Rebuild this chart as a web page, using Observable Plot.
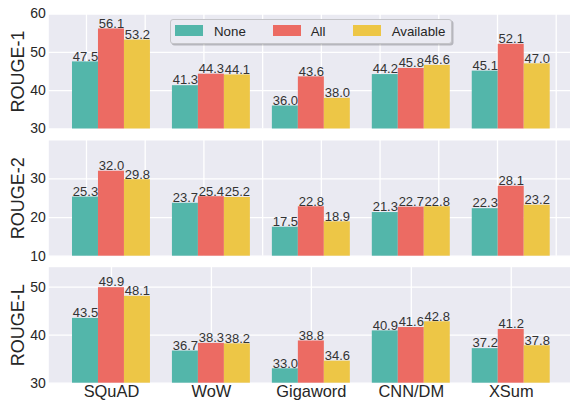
<!DOCTYPE html>
<html><head><meta charset="utf-8">
<script src="https://cdn.jsdelivr.net/npm/d3@7"></script>
<script src="https://cdn.jsdelivr.net/npm/@observablehq/plot@0.6"></script>
<style>
body{margin:0;background:#fff;overflow:hidden;font-family:"Liberation Sans",Arial,sans-serif}
#chart{position:relative;width:570px;height:400px}
#chart svg{position:absolute;left:0;top:0}
.legend{position:absolute;left:170px;top:19px;width:282px;height:25px;background:#EAEAF2;border:1px solid #c4c4c8;border-radius:3px;box-shadow:1.5px 1.5px 0 rgba(0,0,0,0.22);box-sizing:border-box}
.sw{position:absolute;top:5px;width:28px;height:11px}
.lt{position:absolute;top:0;font-size:13.3px;color:#262626;line-height:23px;white-space:nowrap}
</style>
</head><body>
<div id="chart"></div>
<script>
const categories = ["SQuAD", "WoW", "Gigaword", "CNN/DM", "XSum"];
const series = ["None", "All", "Available"];
const colors = ["#53b6aa", "#ec6b63", "#edc646"];

const rouge1None  = [47.5, 41.3, 36.0, 44.2, 45.1];
const rouge1All   = [56.1, 44.3, 43.6, 45.8, 52.1];
const rouge1Avail = [53.2, 44.1, 38.0, 46.6, 47.0];

const rouge2None  = [25.3, 23.7, 17.5, 21.3, 22.3];
const rouge2All   = [32.0, 25.4, 22.8, 22.7, 28.1];
const rouge2Avail = [29.8, 25.2, 18.9, 22.8, 23.2];

const rougeLNone  = [43.5, 36.7, 33.0, 40.9, 37.2];
const rougeLAll   = [49.9, 38.3, 38.8, 41.6, 41.2];
const rougeLAvail = [48.1, 38.2, 34.6, 42.8, 37.8];

const rouge1Ticks = [30, 40, 50, 60];
const rouge2Ticks = [10, 20, 30];
const rougeLTicks = [30, 40, 50];
// vertical grid positions of the upper panels (x data units)
const upperGridX = [-0.25, 0.3375, 0.925, 1.5125, 2.1, 2.6875, 3.275, 3.8625, 4.45];
const categoryIndex = [0, 1, 2, 3, 4];

const BAR_W = 0.26;
const BG = "#EAEAF2";
const chart = document.getElementById("chart");

function panel({values, label, yDomain, yTicks, gridX, showX, marginTop, marginBottom}) {
  const rows = categories.flatMap((c, i) => series.map((s, j) => ({c, i, s, j, v: values[j][i]})));
  const x1 = d => d.i + (d.j - 1.5) * BAR_W;
  const x2 = d => d.i + (d.j - 0.5) * BAR_W;
  const xc = d => d.i + (d.j - 1) * BAR_W;
  const marks = [
    Plot.frame({fill: BG, stroke: null}),
    Plot.gridX(gridX, {stroke: "white", strokeOpacity: 1, strokeWidth: 1.3}),
    Plot.gridY(yTicks, {stroke: "white", strokeOpacity: 1, strokeWidth: 1.3}),
    Plot.rectY(rows, {x1, x2, y1: () => yDomain[0], y2: "v", fill: "s"}),
    Plot.text(rows, {x: xc, y: "v", text: d => d.v.toFixed(1), lineAnchor: "bottom", dy: -1.2, fontSize: 13, fill: "#333"}),
    Plot.axisY(yTicks, {tickSize: 0, tickPadding: 3, fontSize: 14, fill: "#262626", label: null}),
    Plot.text([label], {frameAnchor: "left", textAnchor: "middle", lineAnchor: "middle", dx: -31, rotate: -90, fontSize: 18, fill: "#262626"})
  ];
  if (showX) marks.push(Plot.axisX(categoryIndex, {tickSize: 0, tickPadding: 2, fontSize: 16.4, fill: "#262626", tickFormat: i => categories[i], label: null}));
  const svg = Plot.plot({
    width: 570, height: 400,
    marginLeft: 48.3, marginRight: 0, marginTop, marginBottom,
    x: {type: "linear", domain: [-0.627, 4.593], axis: null},
    y: {domain: yDomain, axis: null},
    color: {domain: series, range: colors},
    style: {background: "transparent", overflow: "visible", fontFamily: "'Liberation Sans', Arial, sans-serif", color: "#262626"},
    marks
  });
  chart.appendChild(svg);
}

panel({values: [rouge1None, rouge1All, rouge1Avail], label: "ROUGE-1", yDomain: [30, 60], yTicks: rouge1Ticks, gridX: upperGridX, showX: false, marginTop: 13.5, marginBottom: 271.5});
panel({values: [rouge2None, rouge2All, rouge2Avail], label: "ROUGE-2", yDomain: [10, 39.95], yTicks: rouge2Ticks, gridX: upperGridX, showX: false, marginTop: 140, marginBottom: 144.3});
panel({values: [rougeLNone, rougeLAll, rougeLAvail], label: "ROUGE-L", yDomain: [30, 54.17], yTicks: rougeLTicks, gridX: categoryIndex, showX: true, marginTop: 266.7, marginBottom: 17.3});

// legend
const lg = document.createElement("div");
lg.className = "legend";
const swX = [4, 102.3, 181.7];
const txX = [43, 139.7, 220.7];
series.forEach((s, j) => {
  const sw = document.createElement("div");
  sw.className = "sw"; sw.style.left = swX[j] + "px"; sw.style.background = colors[j];
  const t = document.createElement("div");
  t.className = "lt"; t.style.left = txX[j] + "px"; t.textContent = s;
  lg.appendChild(sw); lg.appendChild(t);
});
chart.appendChild(lg);
</script>
</body></html>
